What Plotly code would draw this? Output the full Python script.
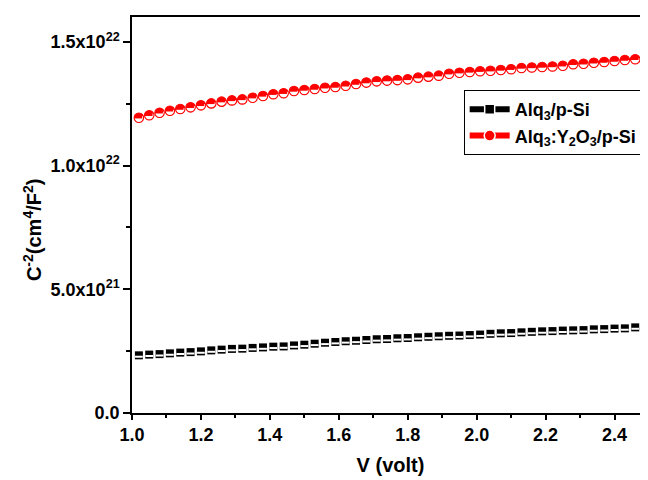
import plotly.graph_objects as go

# ---------------- data ----------------
V = [1.02, 1.05, 1.08, 1.11, 1.14, 1.17, 1.20, 1.23, 1.26, 1.29,
     1.32, 1.35, 1.38, 1.41, 1.44, 1.47, 1.50, 1.53, 1.56, 1.59,
     1.62, 1.65, 1.68, 1.71, 1.74, 1.77, 1.80, 1.83, 1.86, 1.89,
     1.92, 1.95, 1.98, 2.01, 2.04, 2.07, 2.10, 2.13, 2.16, 2.19,
     2.22, 2.25, 2.28, 2.31, 2.34, 2.37, 2.40, 2.43, 2.46, 2.49]

# Alq3/p-Si, C^-2 in units of 1e21 cm^4/F^2
alq3_psi = [2.33, 2.36, 2.38, 2.41, 2.44, 2.46, 2.49, 2.53, 2.56, 2.59,
            2.60, 2.63, 2.65, 2.68, 2.69, 2.73, 2.76, 2.80, 2.84, 2.87,
            2.90, 2.92, 2.95, 2.98, 2.99, 3.02, 3.03, 3.06, 3.08, 3.10,
            3.12, 3.13, 3.15, 3.17, 3.20, 3.22, 3.23, 3.26, 3.28, 3.30,
            3.31, 3.33, 3.34, 3.35, 3.38, 3.39, 3.41, 3.42, 3.46, 3.49]

# Alq3:Y2O3/p-Si, C^-2 in units of 1e22 cm^4/F^2
alq3_y2o3_psi = [1.193, 1.203, 1.213, 1.221, 1.228, 1.235, 1.243, 1.251, 1.258, 1.263,
                 1.267, 1.274, 1.281, 1.288, 1.292, 1.301, 1.305, 1.309, 1.314, 1.317,
                 1.322, 1.329, 1.335, 1.340, 1.343, 1.345, 1.348, 1.355, 1.359, 1.363,
                 1.371, 1.375, 1.378, 1.381, 1.383, 1.386, 1.389, 1.394, 1.396, 1.398,
                 1.400, 1.403, 1.409, 1.411, 1.415, 1.418, 1.422, 1.426, 1.429, 1.436]

series_names = ["<b>Alq<sub>3</sub>/p-Si</b>", "<b>Alq<sub>3</sub>:Y<sub>2</sub>O<sub>3</sub>/p-Si</b>"]
y_tick_vals = [0, 5e21, 1e22, 1.5e22]
y_tick_text = ["<b>0.0</b>", "<b>5.0x10<sup>21</sup></b>", "<b>1.0x10<sup>22</sup></b>", "<b>1.5x10<sup>22</sup></b>"]
y_minor_vals = [2.5e21, 7.5e21, 1.25e22]

# ---------------- layout constants ----------------
W, H = 648, 480
PAGE_OFFSET = 8                      # default body margin of the html page
# plot area wanted on screen: x 132..649.5, y 17..413
ML = 132 - PAGE_OFFSET
MT = 17 - PAGE_OFFSET
MB = H - (413 - PAGE_OFFSET)
MR = W - (649.5 - PAGE_OFFSET)
PLOT_W = W - ML - MR
PLOT_H = H - MT - MB
X_RANGE = [1.0, 2.5]
Y_RANGE = [0, 1.6e22]
YPP = (Y_RANGE[1] - Y_RANGE[0]) / PLOT_H   # data units per pixel
FONT = "Arial, Liberation Sans, sans-serif"

black_y = [v * 1e21 for v in alq3_psi]
red_y = [v * 1e22 for v in alq3_y2o3_psi]

fig = go.Figure()

# --- black half-filled squares ---
fig.add_trace(go.Scatter(x=V, y=black_y, mode="markers", showlegend=False, hoverinfo="skip",
                         marker=dict(symbol="square", size=8, color="black", line=dict(width=0))))
fig.add_trace(go.Scatter(x=V, y=[y - 1.4 * YPP for y in black_y], mode="markers", showlegend=False,
                         hoverinfo="skip",
                         marker=dict(symbol="line-ew", size=5.5, line=dict(color="white", width=2))))

# --- red half-filled circles ---
fig.add_trace(go.Scatter(x=V, y=red_y, mode="markers", showlegend=False, hoverinfo="skip",
                         marker=dict(symbol="circle", size=9.5, color="red", line=dict(width=0))))
fig.add_trace(go.Scatter(x=V, y=[y - 2.5 * YPP for y in red_y], mode="markers", showlegend=False,
                         hoverinfo="skip",
                         marker=dict(symbol="line-ew", size=10, line=dict(color="white", width=3.6))))
fig.add_trace(go.Scatter(x=V, y=red_y, mode="markers", showlegend=False, hoverinfo="skip",
                         marker=dict(symbol="circle-open", size=9.5, color="red", line=dict(color="red", width=1.1))))

# --- legend entries ---
fig.add_trace(go.Scatter(x=[None], y=[None], mode="lines+markers", name=series_names[0],
                         line=dict(color="black", width=6),
                         marker=dict(symbol="square", size=10, color="black", line=dict(color="white", width=1.5))))
fig.add_trace(go.Scatter(x=[None], y=[None], mode="lines+markers", name=series_names[1],
                         line=dict(color="red", width=6),
                         marker=dict(symbol="circle", size=11, color="red", line=dict(color="white", width=1.5))))

axis_common = dict(showline=True, linecolor="black", linewidth=1.5, showgrid=False, zeroline=False,
                   ticks="outside", tickcolor="black", tickwidth=1.5)

fig.update_layout(
    width=W, height=H,
    margin=dict(l=ML, r=MR, t=MT, b=MB, pad=0, autoexpand=False),
    paper_bgcolor="white", plot_bgcolor="white",
    font=dict(family=FONT, color="black"),
    showlegend=True,
    legend=dict(x=(464 - 132) / PLOT_W, y=(413 - 90) / PLOT_H, xanchor="left", yanchor="top",
                bgcolor="white", bordercolor="black", borderwidth=1,
                font=dict(family=FONT, size=18, color="black"), itemwidth=40, tracegroupgap=0),
    xaxis=dict(range=X_RANGE, mirror=True, tick0=1.0, dtick=0.2, tickformat=".1f", ticklen=5,
               ticklabelstandoff=0,
               tickfont=dict(family=FONT, size=18, weight="bold"),
               minor=dict(dtick=0.1, ticks="outside", ticklen=3, tickwidth=1.5, tickcolor="black"),
               title=dict(text="<b>V (volt)</b>", font=dict(family=FONT, size=20), standoff=14),
               **axis_common),
    yaxis=dict(range=Y_RANGE, mirror=False, tickmode="array", tickvals=y_tick_vals, ticktext=y_tick_text,
               ticklen=7, tickfont=dict(family=FONT, size=18),
               minor=dict(tickmode="array", tickvals=y_minor_vals, ticks="outside", ticklen=4,
                          tickwidth=1.5, tickcolor="black"),
               **axis_common),
    annotations=[dict(text="<b>C<sup>-2</sup>(cm<sup>4</sup>/F<sup>2</sup>)</b>", textangle=-90,
                      xref="paper", yref="paper", x=(32 - 132) / PLOT_W, y=(413 - 230) / PLOT_H,
                      xanchor="center", yanchor="middle", showarrow=False,
                      font=dict(family=FONT, size=20, color="black"))],
)

fig.write_html("out.html")
